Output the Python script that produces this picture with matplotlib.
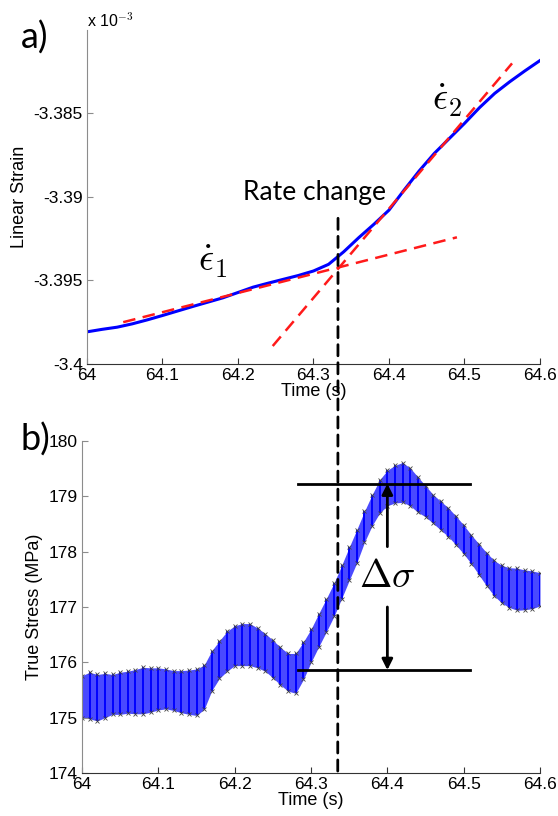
import matplotlib
matplotlib.use("Agg")
import matplotlib.pyplot as plt
from matplotlib.patches import ConnectionPatch
from matplotlib.ticker import FormatStrFormatter

# --- data -----------------------------------------------------------------
# a) linear strain (x 1e-3) vs time
strain_t = [64.00, 64.02, 64.04, 64.06, 64.08, 64.10, 64.12, 64.14, 64.16,
            64.18, 64.20, 64.22, 64.24, 64.26, 64.28, 64.30, 64.32, 64.34,
            64.36, 64.38, 64.40, 64.42, 64.44, 64.46, 64.48, 64.50, 64.52,
            64.54, 64.56, 64.58, 64.60]
strain = [-3.39810, -3.39795, -3.39782, -3.39762, -3.39738, -3.39712,
          -3.39685, -3.39658, -3.39632, -3.39606, -3.39574, -3.39542,
          -3.39518, -3.39495, -3.39472, -3.39445, -3.39405, -3.39330,
          -3.39245, -3.39165, -3.39080, -3.38960, -3.38845, -3.38740,
          -3.38650, -3.38560, -3.38465, -3.38380, -3.38310, -3.38245,
          -3.38183]

# fitted rate lines (start/end points)
fit1_t = [64.048, 64.490]
fit1 = [-3.39752, -3.39243]
fit2_t = [64.246, 64.563]
fit2 = [-3.39895, -3.38200]

# b) true stress (MPa) vs time, with half-width of the scatter band
stress_t = [64.00, 64.01, 64.02, 64.03, 64.04, 64.05, 64.06, 64.07, 64.08,
            64.09, 64.10, 64.11, 64.12, 64.13, 64.14, 64.15, 64.16, 64.17,
            64.18, 64.19, 64.20, 64.21, 64.22, 64.23, 64.24, 64.25, 64.26,
            64.27, 64.28, 64.29, 64.30, 64.31, 64.32, 64.33, 64.34, 64.35,
            64.36, 64.37, 64.38, 64.39, 64.40, 64.41, 64.42, 64.43, 64.44,
            64.45, 64.46, 64.47, 64.48, 64.49, 64.50, 64.51, 64.52, 64.53,
            64.54, 64.55, 64.56, 64.57, 64.58, 64.59, 64.60]
stress = [175.38, 175.40, 175.36, 175.40, 175.42, 175.44, 175.46, 175.47,
          175.49, 175.50, 175.52, 175.52, 175.49, 175.47, 175.46, 175.46,
          175.55, 175.85, 176.05, 176.20, 176.30, 176.32, 176.32, 176.26,
          176.18, 176.06, 175.93, 175.82, 175.80, 176.03, 176.30, 176.58,
          176.85, 177.13, 177.45, 177.78, 178.10, 178.45, 178.75, 179.00,
          179.15, 179.22, 179.25, 179.17, 179.03, 178.91, 178.77, 178.65,
          178.53, 178.38, 178.22, 178.04, 177.86, 177.68, 177.52, 177.41,
          177.35, 177.32, 177.31, 177.31, 177.32]
stress_err = [0.38, 0.42, 0.42, 0.40, 0.36, 0.38, 0.38, 0.40, 0.42, 0.40,
              0.38, 0.36, 0.36, 0.38, 0.40, 0.42, 0.40, 0.36, 0.34, 0.36,
              0.36, 0.38, 0.38, 0.36, 0.34, 0.34, 0.34, 0.34, 0.36, 0.34,
              0.30, 0.30, 0.30, 0.30, 0.30, 0.30, 0.30, 0.28, 0.28, 0.30,
              0.32, 0.34, 0.36, 0.34, 0.32, 0.28, 0.26, 0.26, 0.26, 0.26,
              0.26, 0.26, 0.28, 0.30, 0.32, 0.34, 0.36, 0.38, 0.36, 0.34,
              0.30]

rate_t = [64.3325, 64.335]          # rate change marker (top / bottom axes)
sigma_hi = 179.23
sigma_lo = 175.86
sigma_span = [64.283, 64.508]
arrow_t = 64.40

# --- figure ---------------------------------------------------------------
plt.rcParams["font.family"] = ["Liberation Sans", "DejaVu Sans"]
plt.rcParams["mathtext.fontset"] = "cm"

fig = plt.figure(figsize=(5.58, 8.16), dpi=100)
ax1 = fig.add_axes([0.1559, 0.5545, 0.8118, 0.4087])
ax2 = fig.add_axes([0.1470, 0.0527, 0.8208, 0.4069])


def style(ax):
    for s in ("top", "right"):
        ax.spines[s].set_visible(False)
    ax.spines["left"].set_color("#8c8c8c")
    ax.spines["bottom"].set_color("#333333")
    ax.tick_params(direction="in", length=4, labelsize=12.5, pad=3)
    ax.tick_params(axis="y", colors="#8c8c8c", labelcolor="black")
    ax.tick_params(axis="x", colors="#333333", labelcolor="black")
    ax.xaxis.set_major_formatter(FormatStrFormatter("%g"))
    ax.yaxis.set_major_formatter(FormatStrFormatter("%g"))
    ax.set_xlim(64, 64.6)
    ax.set_xticks([64, 64.1, 64.2, 64.3, 64.4, 64.5, 64.6])
    ax.set_xlabel("Time (s)", fontsize=13, labelpad=0)


# a) strain
style(ax1)
ax1.plot(strain_t, strain, color="#0000ff", lw=2.2, solid_joinstyle="round")
ax1.plot(fit1_t, fit1, color="#ff1a1a", lw=1.8, ls=(0, (5, 3)))
ax1.plot(fit2_t, fit2, color="#ff1a1a", lw=1.8, ls=(0, (5, 3)))
ax1.set_ylim(-3.4, -3.38)
ax1.set_yticks([-3.4, -3.395, -3.39, -3.385])
ax1.set_ylabel("Linear Strain", fontsize=13, labelpad=4)
ax1.text(0, 1.0, r"x 10$^{-3}$", transform=ax1.transAxes, fontsize=11.5,
         ha="left", va="bottom")
ax1.text(64.3013, -3.38973, "Rate change", family="Lato", fontsize=19,
         ha="center", va="center")
ax1.text(64.167, -3.39385, r"$\dot{\epsilon}_1$", fontsize=27,
         ha="center", va="center")
ax1.text(64.477, -3.38425, r"$\dot{\epsilon}_2$", fontsize=27,
         ha="center", va="center")

# b) stress
style(ax2)
lo = [s - e for s, e in zip(stress, stress_err)]
hi = [s + e for s, e in zip(stress, stress_err)]
ax2.fill_between(stress_t, lo, hi, color="#4a4aff", lw=0)
ax2.errorbar(stress_t, stress, yerr=stress_err, fmt="none",
             ecolor="#0000ff", elinewidth=1.4, capsize=0)
ax2.plot(stress_t, lo, ls="none", marker="x", ms=3, mew=0.6, color="#444444")
ax2.plot(stress_t, hi, ls="none", marker="x", ms=3, mew=0.6, color="#444444")
ax2.set_ylim(174, 180)
ax2.set_yticks([174, 175, 176, 177, 178, 179, 180])
ax2.set_ylabel("True Stress (MPa)", fontsize=13, labelpad=4)

ax2.plot(sigma_span, [sigma_hi, sigma_hi], color="black", lw=2)
ax2.plot(sigma_span, [sigma_lo, sigma_lo], color="black", lw=2)
ax2.annotate("", xy=(arrow_t, sigma_hi), xytext=(arrow_t, 178.09),
             arrowprops=dict(arrowstyle="-|>", color="black", lw=2,
                             mutation_scale=16, shrinkA=0, shrinkB=0))
ax2.annotate("", xy=(arrow_t, sigma_lo), xytext=(arrow_t, 177.0),
             arrowprops=dict(arrowstyle="-|>", color="black", lw=2,
                             mutation_scale=16, shrinkA=0, shrinkB=0))
ax2.text(arrow_t, 177.55, r"$\Delta\sigma$", fontsize=28,
         ha="center", va="center")

# vertical rate-change line across both panels
con = ConnectionPatch(xyA=(rate_t[0], -3.39129), coordsA=ax1.transData,
                      xyB=(rate_t[1], 174), coordsB=ax2.transData,
                      color="black", lw=2, ls=(0, (4, 2.5)), zorder=10)
fig.add_artist(con)

fig.text(35 / 558, 1 - 38 / 816, "a)", family="Lato", fontsize=26,
         ha="center", va="center")
fig.text(35 / 558, 1 - 440 / 816, "b)", family="Lato", fontsize=26,
         ha="center", va="center")

fig.savefig("out.png", dpi=100)
